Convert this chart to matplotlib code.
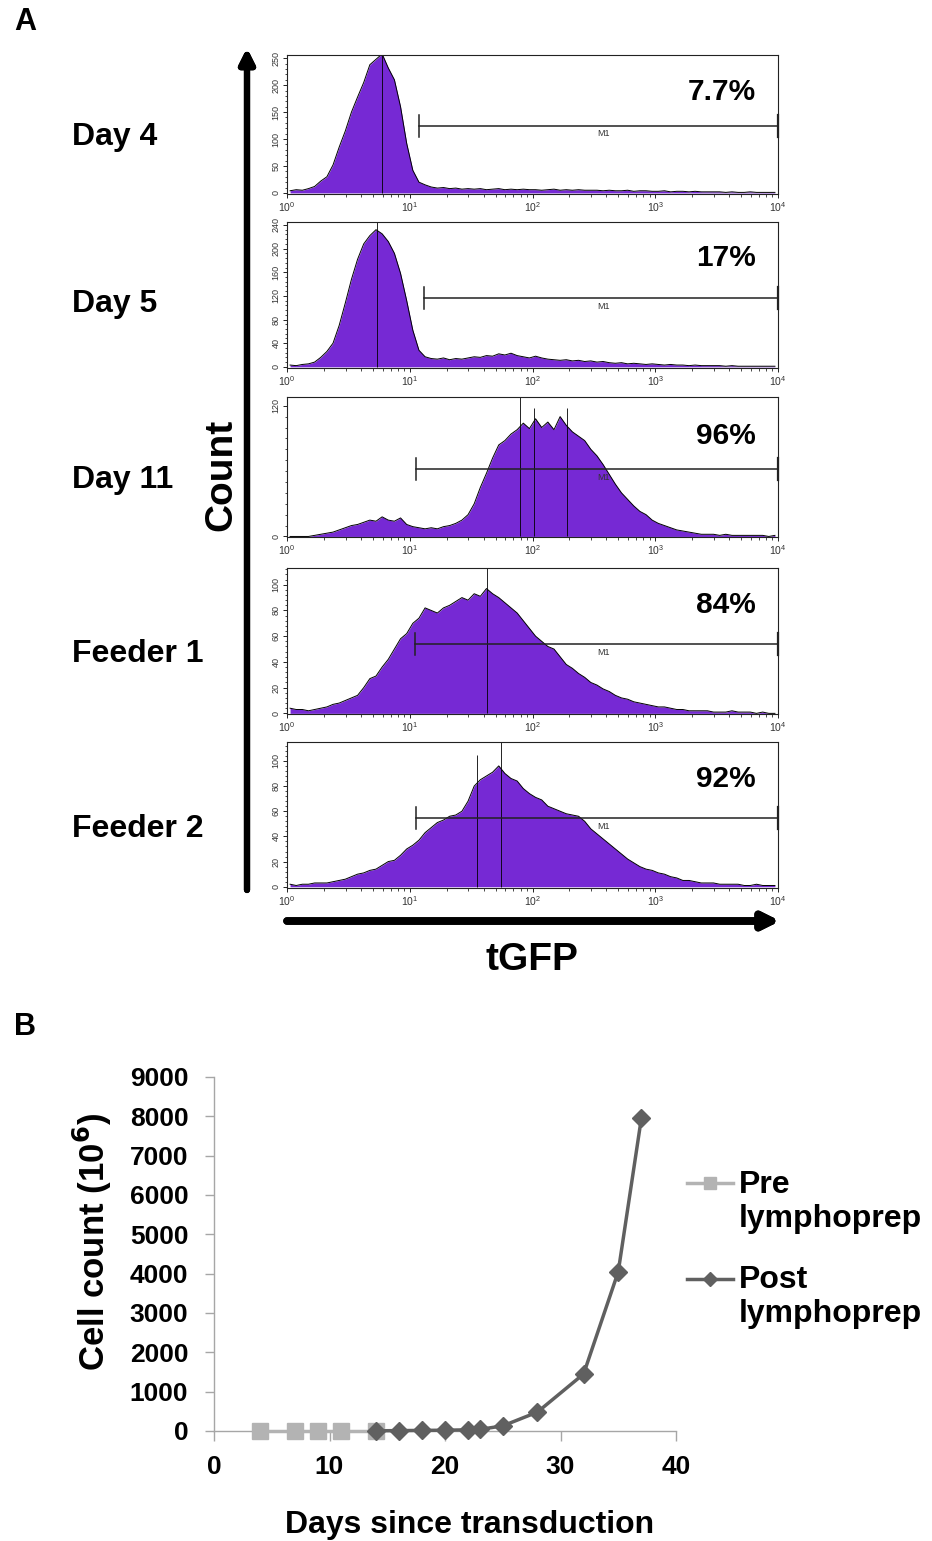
import numpy as np
import matplotlib.pyplot as plt
from matplotlib.lines import Line2D
from matplotlib.ticker import MultipleLocator, LogLocator, NullFormatter

plt.rcParams['font.family'] = ['Liberation Sans', 'DejaVu Sans']

W, H = 932, 1541

def fx(x):
    return x / W

def fy(y):
    return 1 - y / H

# ---- panel A: tGFP histograms, 80 channels of 0.05 decade from 10^0 to 10^4
channel_centers = 10 ** (np.linspace(0, 4, 81)[:-1] + 0.025)

day4_counts = [4, 6, 5, 8, 12, 22, 30, 52, 85, 115,
               150, 178, 205, 238, 248, 258, 232, 210, 160, 92,
               42, 20, 15, 11, 9, 10, 8, 9, 7, 8,
               7, 8, 6, 7, 8, 6, 7, 6, 7, 6,
               6, 5, 6, 7, 5, 6, 5, 6, 5, 5,
               5, 4, 5, 4, 4, 5, 3, 4, 4, 3,
               3, 4, 2, 3, 3, 2, 3, 2, 2, 2,
               2, 1, 2, 1, 1, 2, 1, 1, 1, 1]

day5_counts = [3, 2, 4, 5, 8, 16, 26, 40, 70, 108,
               148, 182, 208, 222, 232, 225, 212, 192, 158, 112,
               62, 28, 17, 14, 13, 15, 12, 14, 13, 15,
               17, 16, 19, 18, 22, 20, 23, 19, 17, 15,
               18, 15, 13, 12, 11, 12, 10, 11, 9, 10,
               8, 9, 7, 6, 7, 5, 6, 5, 4, 5,
               4, 3, 4, 3, 3, 2, 3, 2, 2, 2,
               2, 1, 2, 1, 1, 1, 1, 1, 1, 1]

day11_counts = [0, 0, 0, 0, 1, 2, 3, 4, 6, 8,
                10, 11, 13, 15, 14, 18, 15, 14, 17, 11,
                9, 8, 7, 8, 7, 9, 10, 12, 15, 20,
                30, 45, 58, 72, 84, 88, 94, 98, 104, 99,
                108, 100, 105, 98, 110, 102, 96, 92, 88, 80,
                74, 66, 57, 48, 40, 34, 28, 23, 20, 15,
                12, 10, 8, 6, 5, 4, 3, 2, 2, 2,
                1, 2, 1, 1, 1, 1, 1, 1, 0, 1]

feeder1_counts = [4, 3, 3, 2, 3, 4, 5, 7, 8, 10,
                  12, 14, 20, 27, 29, 36, 42, 50, 58, 62,
                  70, 74, 82, 80, 78, 82, 84, 87, 90, 88,
                  93, 91, 97, 93, 90, 86, 82, 78, 72, 66,
                  60, 56, 52, 50, 44, 38, 35, 31, 28, 24,
                  22, 19, 17, 14, 12, 11, 9, 8, 7, 6,
                  5, 5, 4, 3, 3, 2, 2, 2, 2, 1,
                  1, 1, 2, 1, 1, 1, 0, 1, 0, 0]

feeder2_counts = [2, 1, 2, 2, 3, 3, 3, 4, 5, 6,
                  8, 10, 11, 13, 14, 17, 20, 21, 25, 30,
                  33, 37, 43, 47, 51, 53, 56, 57, 60, 68,
                  80, 85, 88, 91, 96, 90, 86, 84, 78, 74,
                  71, 69, 64, 62, 60, 58, 57, 56, 52, 46,
                  42, 38, 34, 30, 26, 22, 19, 16, 14, 13,
                  11, 10, 8, 7, 5, 5, 4, 3, 3, 3,
                  2, 2, 2, 2, 1, 1, 2, 1, 1, 1]

# single-channel spikes (log10 position, height)
day4_spike_u = [0.77]
day4_spike_h = [262]
day5_spike_u = [0.73]
day5_spike_h = [245]
day11_spike_u = [1.90, 2.01, 2.28]
day11_spike_h = [128, 118, 118]
feeder1_spike_u = [1.63]
feeder1_spike_h = [113]
feeder2_spike_u = [1.55, 1.74]
feeder2_spike_h = [105, 115]

sample_names = ['Day 4', 'Day 5', 'Day 11', 'Feeder 1', 'Feeder 2']
percent_labels = ['7.7%', '17%', '96%', '84%', '92%']
gate_start = [12.0, 13.1, 11.2, 11.1, 11.2]
gate_level = [125, 116, 62, 54, 54.5]

all_counts = [day4_counts, day5_counts, day11_counts, feeder1_counts, feeder2_counts]
all_spike_u = [day4_spike_u, day5_spike_u, day11_spike_u, feeder1_spike_u, feeder2_spike_u]
all_spike_h = [day4_spike_h, day5_spike_h, day11_spike_h, feeder1_spike_h, feeder2_spike_h]

# ---- panel B: cell expansion
pre_days = [4, 7, 9, 11, 14]
pre_counts = [5, 5, 5, 5, 5]
post_days = [14, 16, 18, 20, 22, 23, 25, 28, 32, 35, 37]
post_counts = [5, 10, 15, 20, 30, 40, 130, 480, 1450, 4050, 7950]

PURPLE = '#7629d4'
PRE_C = '#b3b3b3'
POST_C = '#606060'

fig = plt.figure(figsize=(9.32, 15.41), dpi=100)

# layout of the histogram boxes (pixel rows), y limits, tick steps
box_rows = [(55, 194), (222, 368), (397, 537), (568, 714), (742, 888)]
y_lims = [(-2, 256), (-2, 245), (-0.5, 128), (-0.5, 113), (-1, 115)]
y_major = [50, 40, 120, 20, 20]
y_minor = [10, 8, 10, 4, 4]
label_base = [145, 312, 488, 662, 837]
pct_base = [100, 266, 444, 613, 787]

for i in range(5):
    top, bot = box_rows[i]
    ax = fig.add_axes([fx(287), fy(bot), fx(778) - fx(287), (bot - top) / H])
    ax.fill_between(channel_centers, all_counts[i], 0, color=PURPLE, lw=0)
    ax.plot(channel_centers, all_counts[i], color='k', lw=0.7)
    ax.vlines(10 ** np.array(all_spike_u[i]), 0, all_spike_h[i], color='k', lw=0.6)

    ax.set_xscale('log')
    ax.set_xlim(1, 1e4)
    ax.set_ylim(*y_lims[i])
    ax.xaxis.set_major_locator(LogLocator(base=10, numticks=10))
    ax.xaxis.set_minor_locator(LogLocator(base=10, subs=np.arange(2, 10), numticks=10))
    ax.xaxis.set_minor_formatter(NullFormatter())
    ax.yaxis.set_major_locator(MultipleLocator(y_major[i]))
    ax.yaxis.set_minor_locator(MultipleLocator(y_minor[i]))
    ax.tick_params(which='major', length=3, width=0.6, pad=1.5, labelcolor='#333333')
    ax.tick_params(axis='x', labelsize=7.5)
    ax.tick_params(axis='y', labelsize=6.5)
    ax.tick_params(which='minor', length=1.8, width=0.5)
    for lab in ax.get_yticklabels():
        lab.set_rotation(90)
        lab.set_va('center')
    for sp in ax.spines.values():
        sp.set_linewidth(0.8)
        sp.set_color('#222222')

    # M1 gate
    g0 = gate_start[i]
    gy = gate_level[i]
    half = 11 / (bot - top) * (y_lims[i][1] - y_lims[i][0])
    ax.plot([g0, 1e4], [gy, gy], color='#222222', lw=1.1, clip_on=False)
    ax.plot([g0, g0], [gy - half, gy + half], color='#222222', lw=1.1, clip_on=False)
    ax.plot([1e4, 1e4], [gy - half, gy + half], color='#222222', lw=1.6, clip_on=False)
    ax.text(10 ** 2.58, gy - half * 0.35, 'M1', fontsize=6.5, color='#333333',
            ha='center', va='top')

    fig.text(fx(72), fy(label_base[i]), sample_names[i], fontsize=23,
             fontweight='bold', ha='left', va='baseline')
    fig.text(fx(756), fy(pct_base[i]), percent_labels[i], fontsize=21.5,
             fontweight='bold', ha='right', va='baseline')

# axis arrows
fig.add_artist(plt.annotate('', xy=(247, H - 48), xytext=(247, H - 890),
                            xycoords='figure pixels', textcoords='figure pixels',
                            arrowprops=dict(arrowstyle='-|>', lw=4.5, color='k',
                                            mutation_scale=22, shrinkA=0, shrinkB=0)))
fig.add_artist(plt.annotate('', xy=(780, H - 921), xytext=(287, H - 921),
                            xycoords='figure pixels', textcoords='figure pixels',
                            arrowprops=dict(arrowstyle='-|>', lw=5.5, color='k',
                                            mutation_scale=24, shrinkA=0, shrinkB=0)))

fig.text(fx(221), fy(475), 'Count', fontsize=28, fontweight='bold', rotation=90,
         ha='center', va='center')
fig.text(fx(532), fy(960), 'tGFP', fontsize=28, fontweight='bold',
         ha='center', va='center')
fig.text(fx(25), fy(22), 'A', fontsize=22, fontweight='bold', ha='center', va='center')
fig.text(fx(25), fy(1027), 'B', fontsize=22, fontweight='bold', ha='center', va='center')

# ---- panel B
axb = fig.add_axes([fx(214), fy(1431), fx(676) - fx(214), (1431 - 1077) / H])
axb.plot(pre_days, pre_counts, color=PRE_C, lw=2.5, marker='s', ms=11.5,
         clip_on=False, zorder=3)
axb.plot(post_days, post_counts, color=POST_C, lw=2.5, marker='D', ms=9,
         clip_on=False, zorder=4)
axb.set_xlim(0, 40)
axb.set_ylim(0, 9000)
axb.set_xticks(range(0, 41, 10))
axb.set_yticks(range(0, 9001, 1000))
for s in ['top', 'right']:
    axb.spines[s].set_visible(False)
for s in ['left', 'bottom']:
    axb.spines[s].set_color('#a6a6a6')
    axb.spines[s].set_linewidth(1.0)
axb.tick_params(axis='x', color='#a6a6a6', length=7, width=1, labelsize=19, pad=10)
axb.tick_params(axis='y', color='#a6a6a6', length=6.5, width=1, labelsize=19, pad=12)
for lab in axb.get_xticklabels() + axb.get_yticklabels():
    lab.set_fontweight('bold')

fig.text(fx(92), fy(1242), 'Cell count (10$^{\\mathbf{6}}$)', fontsize=25,
         fontweight='bold', rotation=90, ha='center', va='center')
fig.text(fx(470), fy(1525), 'Days since transduction', fontsize=23,
         fontweight='bold', ha='center', va='center')

# legend
fig.add_artist(Line2D([fx(687), fx(733)], [fy(1183)] * 2, color=PRE_C, lw=2.5))
fig.add_artist(Line2D([fx(710)], [fy(1183)], marker='s', ms=8.5, color=PRE_C))
fig.add_artist(Line2D([fx(687), fx(733)], [fy(1279)] * 2, color=POST_C, lw=2.5))
fig.add_artist(Line2D([fx(710)], [fy(1279)], marker='D', ms=7, color=POST_C))
fig.text(fx(739), fy(1193), 'Pre', fontsize=23, fontweight='bold', va='baseline')
fig.text(fx(739), fy(1227), 'lymphoprep', fontsize=23, fontweight='bold', va='baseline')
fig.text(fx(739), fy(1288), 'Post', fontsize=23, fontweight='bold', va='baseline')
fig.text(fx(739), fy(1322), 'lymphoprep', fontsize=23, fontweight='bold', va='baseline')

fig.savefig('out.png', dpi=100)
